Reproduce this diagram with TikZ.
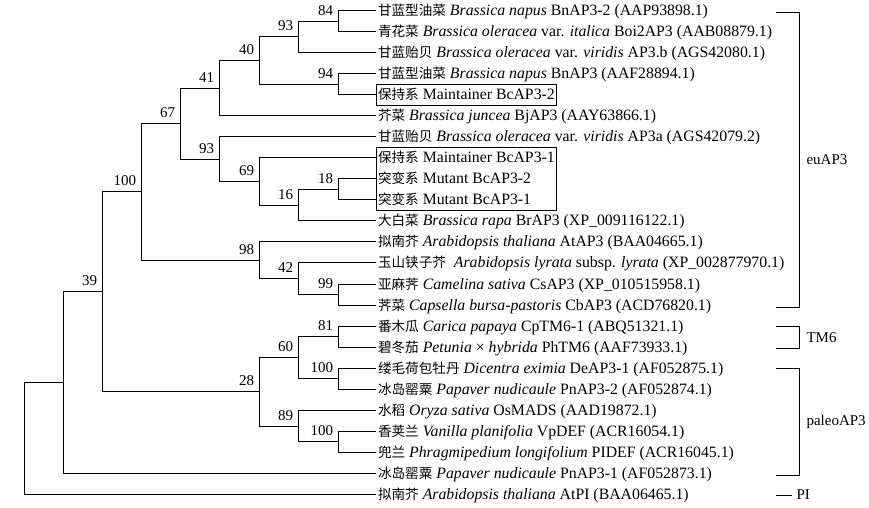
\documentclass[tikz,border=0pt]{standalone}
\usepackage{fontspec}
\setmainfont{Liberation Serif}
\newfontfamily\cjkfont{Noto Sans CJK SC}
\newcommand\cn[1]{{\cjkfont\fontsize{13.6}{16}\selectfont #1}}
\begin{document}
\begin{tikzpicture}[x=1pt,y=-1pt,line width=1pt,
  leaf/.style={anchor=west,inner xsep=1.5pt,inner ysep=0pt,text height=10pt,text depth=0pt,font=\fontsize{15.8}{18}\selectfont},
  bs/.style={anchor=base east,inner sep=0pt,font=\fontsize{15}{18}\selectfont},
  grp/.style={anchor=west,inner sep=0pt,font=\fontsize{15}{18}\selectfont},
  tree/.style={line width=1pt},
  boxline/.style={line width=1pt}]
\useasboundingbox (0,0) rectangle (869,508);
% leaves
\node[leaf] (l1) at (376,10.50) {\cn{甘蓝型油菜} \textit{Brassica napus} BnAP3-2 (AAP93898.1)};
\node[leaf] (l2) at (376,31.54) {\cn{青花菜} \textit{Brassica oleracea} var. \textit{italica} Boi2AP3 (AAB08879.1)};
\node[leaf] (l3) at (376,52.58) {\cn{甘蓝贻贝} \textit{Brassica oleracea} var. \textit{viridis} AP3.b (AGS42080.1)};
\node[leaf] (l4) at (376,73.62) {\cn{甘蓝型油菜} \textit{Brassica napus} BnAP3 (AAF28894.1)};
\node[leaf] (l5) at (376,94.66) {\cn{保持系} Maintainer BcAP3-2};
\node[leaf] (l6) at (376,115.70) {\cn{芥菜} \textit{Brassica juncea} BjAP3 (AAY63866.1)};
\node[leaf] (l7) at (376,136.74) {\cn{甘蓝贻贝} \textit{Brassica oleracea} var. \textit{viridis} AP3a (AGS42079.2)};
\node[leaf] (l8) at (376,157.78) {\cn{保持系} Maintainer BcAP3-1};
\node[leaf] (l9) at (376,178.82) {\cn{突变系} Mutant BcAP3-2};
\node[leaf] (l10) at (376,199.86) {\cn{突变系} Mutant BcAP3-1};
\node[leaf] (l11) at (376,220.90) {\cn{大白菜} \textit{Brassica rapa} BrAP3 (XP\_009116122.1)};
\node[leaf] (l12) at (376,241.94) {\cn{拟南芥} \textit{Arabidopsis thaliana} AtAP3 (BAA04665.1)};
\node[leaf] (l13) at (376,262.98) {\cn{玉山铗子芥}\enspace\textit{Arabidopsis lyrata} subsp. \textit{lyrata} (XP\_002877970.1)};
\node[leaf] (l14) at (376,284.02) {\cn{亚麻荠} \textit{Camelina sativa} CsAP3 (XP\_010515958.1)};
\node[leaf] (l15) at (376,305.06) {\cn{荠菜} \textit{Capsella bursa-pastoris} CbAP3 (ACD76820.1)};
\node[leaf] (l16) at (376,326.10) {\cn{番木瓜} \textit{Carica papaya} CpTM6-1 (ABQ51321.1)};
\node[leaf] (l17) at (376,347.14) {\cn{碧冬茄} \textit{Petunia} × \textit{hybrida} PhTM6 (AAF73933.1)};
\node[leaf] (l18) at (376,368.18) {\cn{缕毛荷包牡丹} \textit{Dicentra eximia} DeAP3-1 (AF052875.1)};
\node[leaf] (l19) at (376,389.22) {\cn{冰岛罂粟} \textit{Papaver nudicaule} PnAP3-2 (AF052874.1)};
\node[leaf] (l20) at (376,410.26) {\cn{水稻} \textit{Oryza sativa} OsMADS (AAD19872.1)};
\node[leaf] (l21) at (376,431.30) {\cn{香荚兰} \textit{Vanilla planifolia} VpDEF (ACR16054.1)};
\node[leaf] (l22) at (376,452.34) {\cn{兜兰} \textit{Phragmipedium longifolium} PIDEF (ACR16045.1)};
\node[leaf] (l23) at (376,473.38) {\cn{冰岛罂粟} \textit{Papaver nudicaule} PnAP3-1 (AF052873.1)};
\node[leaf] (l24) at (376,494.42) {\cn{拟南芥} \textit{Arabidopsis thaliana} AtPI (BAA06465.1)};
% internal nodes
\coordinate (n84) at (338,21.02);
\coordinate (n93) at (298,36.80);
\coordinate (n94) at (338,84.14);
\coordinate (n40) at (259,60.47);
\coordinate (n41) at (219,88.09);
\coordinate (n18) at (338,189.34);
\coordinate (n16) at (298,205.12);
\coordinate (n69) at (259,181.45);
\coordinate (n93b) at (219,159.10);
\coordinate (n67) at (180,123.59);
\coordinate (n99) at (338,294.54);
\coordinate (n42) at (298,278.76);
\coordinate (n98) at (259,260.35);
\coordinate (n100) at (141,191.97);
\coordinate (n81) at (338,336.62);
\coordinate (n100b) at (338,378.70);
\coordinate (n60) at (298,357.66);
\coordinate (n100c) at (338,441.82);
\coordinate (n89) at (298,426.04);
\coordinate (n28) at (259,391.85);
\coordinate (n39) at (102,291.91);
\coordinate (nA) at (63,382.65);
\coordinate (nR) at (24,438.53);
% bootstrap labels
\foreach \n/\t in {n84/84,n93/93,n94/94,n40/40,n41/41,n18/18,n16/16,n69/69,n93b/93,n67/67,n99/99,n42/42,n98/98,n100/100,n81/81,n100b/100,n60/60,n100c/100,n89/89,n28/28,n39/39}
  \node[bs] (lb\n) at ([shift={(-4.5,-6)}]\n) {\t};
% branches
\draw[tree] (n84) |- (l1.west) (n84) |- (l2.west);
\draw[tree] (n93) |- (n84) (n93) |- (l3.west);
\draw[tree] (n94) |- (l4.west) (n94) |- (l5.west);
\draw[tree] (n40) |- (n93) (n40) |- (n94);
\draw[tree] (n41) |- (n40) (n41) |- (l6.west);
\draw[tree] (n18) |- (l9.west) (n18) |- (l10.west);
\draw[tree] (n16) |- (n18) (n16) |- (l11.west);
\draw[tree] (n69) |- (l8.west) (n69) |- (n16);
\draw[tree] (n93b) |- (l7.west) (n93b) |- (n69);
\draw[tree] (n67) |- (n41) (n67) |- (n93b);
\draw[tree] (n99) |- (l14.west) (n99) |- (l15.west);
\draw[tree] (n42) |- (l13.west) (n42) |- (n99);
\draw[tree] (n98) |- (l12.west) (n98) |- (n42);
\draw[tree] (n100) |- (n67) (n100) |- (n98);
\draw[tree] (n81) |- (l16.west) (n81) |- (l17.west);
\draw[tree] (n100b) |- (l18.west) (n100b) |- (l19.west);
\draw[tree] (n60) |- (n81) (n60) |- (n100b);
\draw[tree] (n100c) |- (l21.west) (n100c) |- (l22.west);
\draw[tree] (n89) |- (l20.west) (n89) |- (n100c);
\draw[tree] (n28) |- (n60) (n28) |- (n89);
\draw[tree] (n39) |- (n100) (n39) |- (n28);
\draw[tree] (nA) |- (n39) (nA) |- (l23.west);
\draw[tree] (nR) |- (nA) (nR) |- (l24.west);
% boxes
\draw[boxline] ([yshift=10.5pt]l5.west) rectangle ([xshift=180pt,yshift=-10.5pt]l5.west);
\draw[boxline] ([yshift=10.5pt]l8.west) rectangle ([xshift=180pt,yshift=-10.5pt]l10.west);
% group brackets
\node[grp] (geu) at (806,160) {euAP3};
\node[grp] (gtm) at (806,337.5) {TM6};
\node[grp] (gpa) at (806,422) {paleoAP3};
\node[grp] (gpi) at (796,495) {PI};
\draw[tree] (776,12.5) -| (799,307.5) -- (776,307.5);
\draw[tree] (776,326.5) -| (799,348.5) -- (776,348.5);
\draw[tree] (776,368.5) -| (799,475.5) -- (776,475.5);
\draw[tree] (776,495) -- ([xshift=-4pt]gpi.west);
\end{tikzpicture}
\end{document}
